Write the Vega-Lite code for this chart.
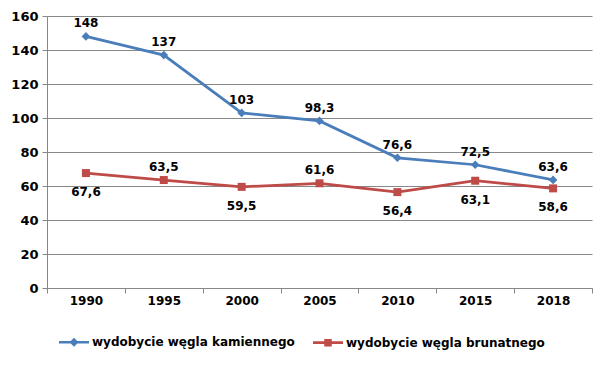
{
  "$schema": "https://vega.github.io/schema/vega-lite/v6.json",
  "autosize": {"type": "none"},
  "width": 545,
  "height": 272,
  "padding": {"left": 47, "top": 16, "right": 18, "bottom": 84},
  "background": "white",
  "config": {
    "view": {"stroke": null},
    "font": "DejaVu Sans",
    "locale": {"number": {"decimal": ",", "thousands": " ", "grouping": [3], "currency": ["", " zł"]}}
  },
  "data": {
    "values": [
      {"year": "1990", "series": "wydobycie węgla kamiennego", "value": 148},
      {"year": "1995", "series": "wydobycie węgla kamiennego", "value": 137},
      {"year": "2000", "series": "wydobycie węgla kamiennego", "value": 103},
      {"year": "2005", "series": "wydobycie węgla kamiennego", "value": 98.3},
      {"year": "2010", "series": "wydobycie węgla kamiennego", "value": 76.6},
      {"year": "2015", "series": "wydobycie węgla kamiennego", "value": 72.5},
      {"year": "2018", "series": "wydobycie węgla kamiennego", "value": 63.6},
      {"year": "1990", "series": "wydobycie węgla brunatnego", "value": 67.6},
      {"year": "1995", "series": "wydobycie węgla brunatnego", "value": 63.5},
      {"year": "2000", "series": "wydobycie węgla brunatnego", "value": 59.5},
      {"year": "2005", "series": "wydobycie węgla brunatnego", "value": 61.6},
      {"year": "2010", "series": "wydobycie węgla brunatnego", "value": 56.4},
      {"year": "2015", "series": "wydobycie węgla brunatnego", "value": 63.1},
      {"year": "2018", "series": "wydobycie węgla brunatnego", "value": 58.6}
    ]
  },
  "encoding": {
    "x": {
      "field": "year", "type": "ordinal", "bandPosition": 0.5,
      "scale": {"type": "band", "paddingInner": 0, "paddingOuter": 0},
      "axis": {
        "title": null, "labelAngle": 0, "tickBand": "extent", "grid": false,
        "domainColor": "#878787", "tickColor": "#878787", "tickSize": 5,
        "labelFont": "DejaVu Sans", "labelFontWeight": "bold", "labelFontSize": 12,
        "labelColor": "#000000", "labelPadding": 2
      }
    },
    "y": {
      "field": "value", "type": "quantitative",
      "scale": {"domain": [0, 160], "nice": false},
      "axis": {
        "title": null, "values": [0, 20, 40, 60, 80, 100, 120, 140, 160],
        "grid": true, "gridColor": "#878787", "gridWidth": 1,
        "domainColor": "#878787", "tickColor": "#878787", "tickSize": 5,
        "labelFont": "DejaVu Sans", "labelFontWeight": "bold", "labelFontSize": 13,
        "labelColor": "#000000", "labelPadding": 4
      }
    }
  },
  "layer": [
    {
      "transform": [{"filter": "datum.series === 'wydobycie węgla kamiennego'"}],
      "mark": {"type": "line", "strokeWidth": 2.75, "color": "#4A7EBB"}
    },
    {
      "transform": [{"filter": "datum.series === 'wydobycie węgla brunatnego'"}],
      "mark": {"type": "line", "strokeWidth": 2.75, "color": "#BE4B48"}
    },
    {
      "transform": [{"filter": "datum.series === 'wydobycie węgla kamiennego'"}],
      "mark": {"type": "point", "filled": true, "opacity": 1, "shape": "diamond", "size": 75, "color": "#4A7EBB"}
    },
    {
      "transform": [{"filter": "datum.series === 'wydobycie węgla brunatnego'"}],
      "mark": {"type": "point", "filled": true, "opacity": 1, "shape": "square", "size": 64, "color": "#BE4B48"}
    },
    {
      "mark": {"type": "point", "filled": true, "opacity": 0},
      "encoding": {
        "color": {
          "field": "series", "type": "nominal",
          "scale": {"domain": ["wydobycie węgla kamiennego", "wydobycie węgla brunatnego"], "range": ["#4A7EBB", "#BE4B48"]},
          "legend": {
            "title": null, "orient": "none", "legendX": 11, "legendY": 310,
            "direction": "horizontal", "columnPadding": 15,
            "symbolSize": 900, "symbolOpacity": 1, "labelOffset": 2, "labelLimit": 0,
            "labelFont": "DejaVu Sans", "labelFontWeight": "bold", "labelFontSize": 12, "labelColor": "#000000"
          }
        },
        "shape": {
          "field": "series", "type": "nominal",
          "scale": {"domain": ["wydobycie węgla kamiennego", "wydobycie węgla brunatnego"], "range": ["M-1,-0.09H1V0.09H-1Z M0,-0.3L0.3,0L0,0.3L-0.3,0Z", "M-1,-0.09H1V0.09H-1Z M-0.25,-0.25H0.25V0.25H-0.25Z"]},
          "legend": {
            "title": null, "orient": "none", "legendX": 11, "legendY": 310,
            "direction": "horizontal", "columnPadding": 15,
            "symbolSize": 900, "symbolOpacity": 1, "labelOffset": 2, "labelLimit": 0,
            "labelFont": "DejaVu Sans", "labelFontWeight": "bold", "labelFontSize": 12, "labelColor": "#000000"
          }
        }
      }
    },
    {
      "transform": [{"filter": "datum.series === 'wydobycie węgla kamiennego' || datum.year === '1995' || datum.year === '2005'"}],
      "mark": {"type": "text", "dy": -13, "font": "DejaVu Sans", "fontWeight": "bold", "fontSize": 12, "color": "#000000"},
      "encoding": {"text": {"field": "value", "type": "quantitative", "format": ".1~f"}}
    },
    {
      "transform": [{"filter": "datum.series === 'wydobycie węgla brunatnego' && datum.year !== '1995' && datum.year !== '2005'"}],
      "mark": {"type": "text", "dy": 19, "font": "DejaVu Sans", "fontWeight": "bold", "fontSize": 12, "color": "#000000"},
      "encoding": {"text": {"field": "value", "type": "quantitative", "format": ".1~f"}}
    }
  ]
}
